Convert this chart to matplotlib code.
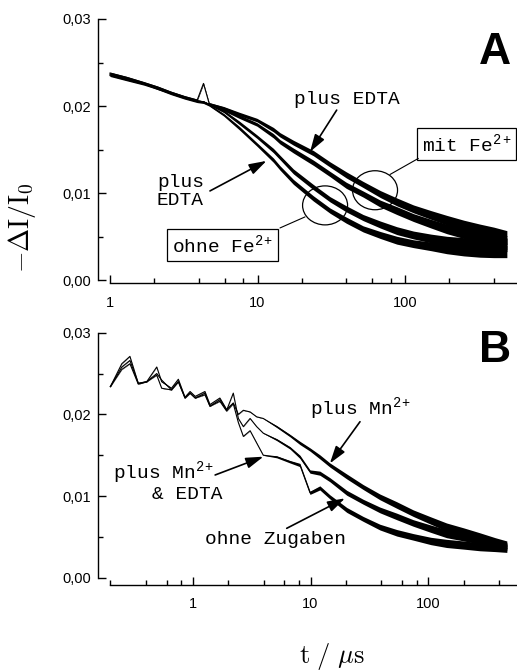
import numpy as np
import matplotlib
matplotlib.use("Agg")
import matplotlib.pyplot as plt
from matplotlib.patches import Ellipse
from matplotlib.transforms import IdentityTransform
from matplotlib.ticker import FixedLocator, FixedFormatter, LogLocator, NullFormatter

plt.rcParams['font.family'] = ['Liberation Sans', 'DejaVu Sans']
plt.rcParams['mathtext.fontset'] = 'custom'
plt.rcParams['mathtext.rm'] = 'Liberation Mono'
plt.rcParams['mathtext.it'] = 'Liberation Mono'
plt.rcParams['mathtext.bf'] = 'Liberation Mono'

# ---------------- data ----------------
# Panel A
tA = [1.0, 1.3, 1.7, 2.1, 2.6, 3.2, 3.9, 4.3, 4.7, 5.9, 7.5, 9.9, 12.8, 14.2,
      17.5, 23.9, 31, 40, 52, 68, 88, 114, 150, 192, 250, 322, 400, 490]
mitFe = [0.0238, 0.0233, 0.0227, 0.0222, 0.0216, 0.0211, 0.0207, 0.0226, 0.0203,
         0.0198, 0.0191, 0.0184, 0.0173, 0.0167, 0.0158, 0.0146, 0.0133, 0.0121,
         0.0110, 0.0099, 0.0090, 0.0082, 0.0075, 0.0069, 0.0063, 0.0058, 0.0054, 0.0050]
mitFe_EDTA = [0.0236, 0.0231, 0.0226, 0.0220, 0.0215, 0.0210, 0.0206, 0.0205, 0.0202,
              0.0196, 0.0188, 0.0179, 0.0166, 0.0159, 0.0149, 0.0135, 0.0122, 0.0109,
              0.0099, 0.0088, 0.0080, 0.0072, 0.0065, 0.0059, 0.0054, 0.0049, 0.0045, 0.0042]
ohneFe = [0.0237, 0.0232, 0.0226, 0.0221, 0.0215, 0.0210, 0.0206, 0.0205, 0.0202,
          0.0194, 0.0181, 0.0165, 0.0149, 0.0141, 0.0125, 0.0107, 0.0093, 0.0082,
          0.0072, 0.0064, 0.0057, 0.0052, 0.0048, 0.0045, 0.0043, 0.0042, 0.0041, 0.0041]
ohneFe_EDTA = [0.0235, 0.0230, 0.0225, 0.0220, 0.0214, 0.0209, 0.0205, 0.0204, 0.0201,
               0.0190, 0.0175, 0.0156, 0.0138, 0.0129, 0.0113, 0.0094, 0.0080, 0.0069,
               0.0059, 0.0052, 0.0046, 0.0042, 0.0039, 0.0036, 0.0034, 0.0033, 0.0033, 0.0033]
noiseA = [0.0001, 0.0001, 0.0001, 0.0001, 0.0001, 0.0001, 0.0001, 0.0001, 0.0001,
          0.00015, 0.0002, 0.0002, 0.00025, 0.00025, 0.00028, 0.0003, 0.0003, 0.00035,
          0.00035, 0.0004, 0.00045, 0.00045, 0.0005, 0.00055, 0.0006, 0.00065, 0.0007, 0.0007]

# Panel B
tB = [0.2, 0.25, 0.293, 0.345, 0.407, 0.495, 0.545, 0.66, 0.755, 0.86, 0.95, 1.05,
      1.27, 1.4, 1.7, 1.94, 2.21, 2.44, 2.69, 3.07, 3.49, 3.97, 5.17, 6.7, 8.13,
      9.9, 12, 14.6, 20.3, 28, 38.8, 54, 74.6, 105, 143, 200, 274, 370, 464]
plusMn = [0.0234, 0.0262, 0.0271, 0.0238, 0.0240, 0.0258, 0.0240, 0.0232, 0.0243, 0.0221,
          0.0228, 0.0222, 0.0228, 0.0212, 0.0220, 0.0206, 0.0214, 0.0200, 0.0205, 0.0203,
          0.0197, 0.0195, 0.0185, 0.0174, 0.0165, 0.0157, 0.0148, 0.0138, 0.0124, 0.0111,
          0.0099, 0.0089, 0.0079, 0.0070, 0.0062, 0.0056, 0.0050, 0.0044, 0.0040]
ohneZugaben = [0.0234, 0.0258, 0.0266, 0.0238, 0.0240, 0.0250, 0.0242, 0.0230, 0.0240, 0.0220,
               0.0226, 0.0220, 0.0226, 0.0210, 0.0218, 0.0205, 0.0226, 0.0195, 0.0185, 0.0195,
               0.0185, 0.0177, 0.0169, 0.0159, 0.0148, 0.0130, 0.0128, 0.0120, 0.0104, 0.0093,
               0.0083, 0.0075, 0.0067, 0.0060, 0.0054, 0.0050, 0.0046, 0.0041, 0.0038]
plusMn_EDTA = [0.0234, 0.0255, 0.0262, 0.0237, 0.0240, 0.0248, 0.0232, 0.0230, 0.0240, 0.0220,
               0.0226, 0.0220, 0.0224, 0.0210, 0.0216, 0.0204, 0.0213, 0.0190, 0.0173, 0.0180,
               0.0165, 0.0150, 0.0148, 0.0142, 0.0138, 0.0104, 0.0110, 0.0099, 0.0083, 0.0072,
               0.0062, 0.0055, 0.0050, 0.0045, 0.0042, 0.0040, 0.0038, 0.0037, 0.0036]
noiseB = [0.00002] * 22 + [0.00012, 0.00015, 0.0002, 0.0002, 0.00025, 0.00025, 0.0003, 0.0003,
                           0.00035, 0.0004, 0.0004, 0.00045, 0.0005, 0.0005, 0.0005, 0.0005, 0.0005]

yticks = [0.0, 0.01, 0.02, 0.03]
yticklabels = ['0,00', '0,01', '0,02', '0,03']
xticks = [1, 10, 100]
xticklabels = ['1', '10', '100']

# ---------------- figure ----------------
W, H = 517, 670
fig = plt.figure(figsize=(W / 100, H / 100), dpi=100)

def fx(px):
    return px / W

def fy(py):
    return 1 - py / H

axA = fig.add_axes([fx(98), fy(283.3), fx(517) - fx(98), fy(19) - fy(283.3)])
axB = fig.add_axes([fx(98), fy(585), fx(517) - fx(98), fy(332.7) - fy(585)])

def style(ax, xlim, ylim, xstart):
    ax.set_xscale('log')
    ax.set_xlim(*xlim)
    ax.set_ylim(*ylim)
    for s in ('top', 'right'):
        ax.spines[s].set_visible(False)
    ax.spines['left'].set_bounds(0, 0.03)
    ax.spines['bottom'].set_bounds(xstart, xlim[1])
    for s in ('left', 'bottom'):
        ax.spines[s].set_linewidth(1.0)
    ax.yaxis.set_major_locator(FixedLocator(yticks))
    ax.yaxis.set_major_formatter(FixedFormatter(yticklabels))
    ax.yaxis.set_minor_locator(FixedLocator([0.005, 0.015, 0.025]))
    ax.xaxis.set_major_locator(FixedLocator(xticks))
    ax.xaxis.set_major_formatter(FixedFormatter(xticklabels))
    ax.xaxis.set_minor_locator(LogLocator(base=10, subs=[2, 4, 6, 8], numticks=20))
    ax.xaxis.set_minor_formatter(NullFormatter())
    ax.tick_params(axis='y', which='major', direction='in', length=6, width=1,
                   labelsize=10.5, pad=5)
    ax.tick_params(axis='y', which='minor', direction='in', length=3.5, width=1)
    ax.tick_params(axis='x', which='major', direction='in', length=6, width=1,
                   labelsize=10.5, pad=9)
    ax.tick_params(axis='x', which='minor', direction='in', length=3.5, width=1)

style(axA, (0.829, 574), (-0.000345, 0.03), 1.0)
style(axB, (0.157, 566), (-0.00089, 0.03), 0.2)

def curve(ax, t, v, w, lw=0.8):
    t = np.asarray(t); v = np.asarray(v); w = np.asarray(w)
    ax.fill_between(t, v - w, v + w, color='k', lw=0)
    ax.plot(t, v, color='k', lw=lw)

for series in (mitFe, mitFe_EDTA, ohneFe, ohneFe_EDTA):
    curve(axA, tA, series, noiseA)
for series in (plusMn, ohneZugaben, plusMn_EDTA):
    curve(axB, tB, series, noiseB)

mono = dict(fontfamily='Liberation Mono', fontsize=14, color='k')
arrow = dict(arrowstyle='-|>,head_length=0.7,head_width=0.22', color='k', lw=1.2,
             shrinkA=0, shrinkB=0, mutation_scale=15)
plain = dict(arrowstyle='-', color='k', lw=0.8, shrinkA=0, shrinkB=0)

# ---- panel A annotations ----
axA.text(407, 0.0261, 'A', fontsize=32, fontweight='bold', ha='center', va='center')
axA.text(40.4, 0.0208, 'plus EDTA', ha='center', va='center', **mono)
axA.annotate('', xy=(22.7, 0.01475), xytext=(34.4, 0.01954), arrowprops=arrow)
axA.text(2.08, 0.01023, 'plus\nEDTA', ha='left', va='center', linespacing=1.1, **mono)
axA.annotate('', xy=(11.5, 0.01371), xytext=(4.76, 0.01026), arrowprops=arrow)
axA.text(261, 0.01561, 'mit Fe$^{\\mathrm{2+}}$', ha='center', va='center',
         bbox=dict(boxstyle='square,pad=0.25', fc='white', ec='k', lw=0.9), **mono)
axA.text(5.79, 0.00402, 'ohne Fe$^{\\mathrm{2+}}$', ha='center', va='center',
         bbox=dict(boxstyle='square,pad=0.25', fc='white', ec='k', lw=0.9), **mono)
axA.annotate('', xy=(79.1, 0.01215), xytext=(123, 0.01399), arrowprops=plain)
axA.annotate('', xy=(21.0, 0.00728), xytext=(14.2, 0.00601), arrowprops=plain)

# ---- panel B annotations ----
axB.text(368, 0.02788, 'B', fontsize=32, fontweight='bold', ha='center', va='center')
axB.text(26.7, 0.02074, 'plus Mn$^{\\mathrm{2+}}$', ha='center', va='center', **mono)
axB.annotate('', xy=(14.6, 0.0140), xytext=(26.3, 0.0191), arrowprops=arrow)
axB.text(0.563, 0.0129, 'plus Mn$^{\\mathrm{2+}}$', ha='center', va='center', **mono)
axB.text(0.903, 0.01013, '& EDTA', ha='center', va='center', **mono)
axB.annotate('', xy=(3.98, 0.01482), xytext=(1.55, 0.01258), arrowprops=arrow)
axB.text(5.0, 0.0047, 'ohne Zugaben', ha='center', va='center', **mono)
axB.annotate('', xy=(19.6, 0.00972), xytext=(6.28, 0.00605), arrowprops=arrow)

for (tc, vc) in ((62.6, 0.01034), (28.7, 0.0086)):
    cx, cy = axA.transData.transform((tc, vc))
    e = Ellipse((cx, cy), 45, 39, transform=IdentityTransform(), fill=False,
                ec='k', lw=0.9)
    fig.add_artist(e)

fig.text(fx(22), fy(228), '$-\\Delta\\mathrm{I}/\\mathrm{I}_0$', rotation=90,
         ha='center', va='center', fontsize=20, math_fontfamily='cm')
fig.text(fx(332), fy(656), '$\\mathrm{t}\\ /\\ \\mu\\mathrm{s}$', ha='center', va='center',
         fontsize=19, math_fontfamily='cm')

fig.savefig('out.png', dpi=100)
